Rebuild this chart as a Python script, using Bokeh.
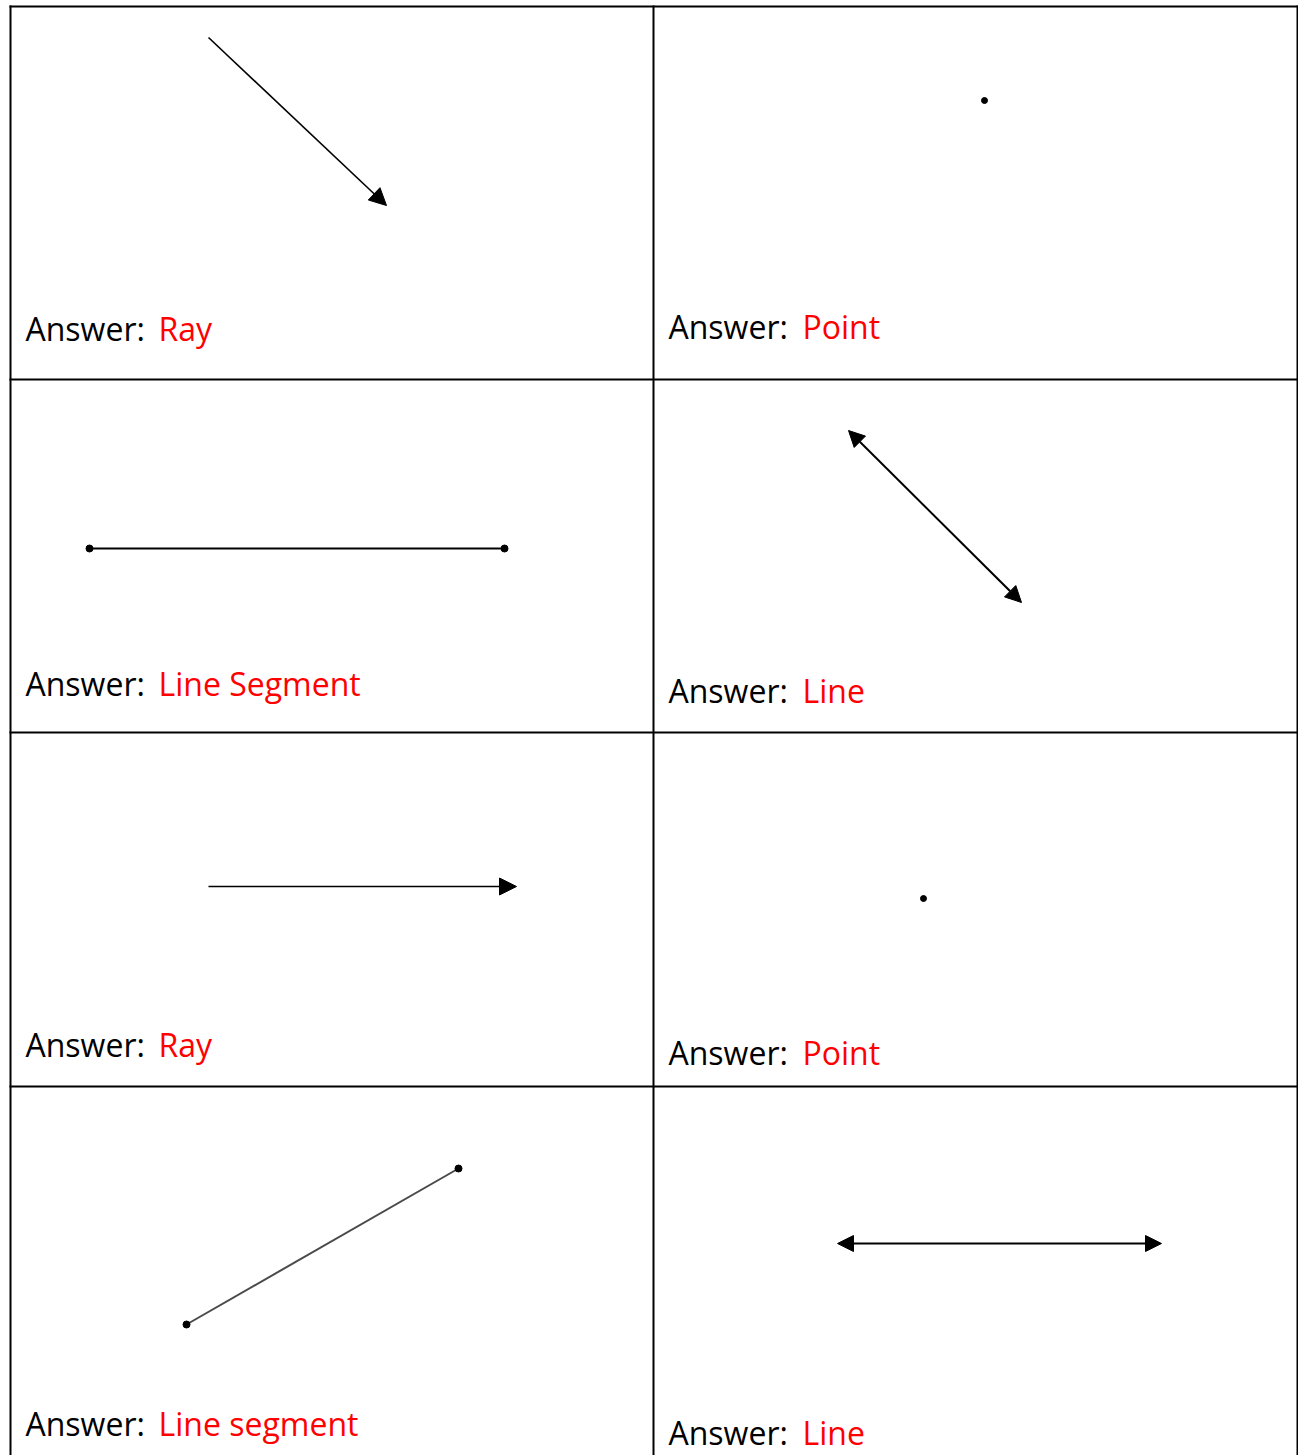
from bokeh.plotting import figure
from bokeh.models import Range1d, Arrow, NormalHead, ColumnDataSource
from bokeh.core.properties import value
from bokeh.embed import file_html
from bokeh.resources import INLINE

# ---- data (screen-like coordinates, y grows downward) ----
answers = ["Ray", "Point", "Line Segment", "Line", "Ray", "Point", "Line segment", "Line"]
prefix = "Answer:"
text_x = [25, 668, 25, 668, 25, 668, 25, 668]
red_x = [158, 802, 158, 802, 158, 802, 158, 802]
text_y = [328, 326, 683, 690, 1044, 1052, 1423, 1432]

grid_vx = [10, 653, 1297]
grid_hy = [6, 379, 732, 1086]
grid_top = 6
grid_bottom = 1455
grid_left = 10
grid_right = 1297

# rays (single arrowhead at end)
ray_x0 = [208, 208]
ray_y0 = [37, 886]
ray_x1 = [386, 516]
ray_y1 = [205, 886]

# lines (arrowheads both ends)
line_x0 = [848, 837]
line_y0 = [430, 1243]
line_x1 = [1021, 1161]
line_y1 = [602, 1243]

# segments with endpoints
seg_x0 = [89, 186]
seg_y0 = [548, 1324]
seg_x1 = [504, 458]
seg_y1 = [548, 1168]
seg_color = ["black", "#4a4a4a"]

# points
pt_x = [984, 923]
pt_y = [100, 898]

W, H = 1298, 1455
p = figure(width=W, height=H, output_backend="svg", toolbar_location=None,
           x_range=Range1d(0, W), y_range=Range1d(H, 0),
           x_axis_type=None, y_axis_type=None, min_border=0,
           outline_line_color=None, background_fill_color="white",
           border_fill_color="white")
p.xgrid.visible = False
p.ygrid.visible = False

# table grid
p.segment(x0=grid_vx, y0=[grid_top - 1] * len(grid_vx), x1=grid_vx,
          y1=[grid_bottom] * len(grid_vx), line_color="black", line_width=2)
p.segment(x0=[grid_left - 1] * len(grid_hy), y0=grid_hy, x1=[grid_right + 1] * len(grid_hy),
          y1=grid_hy, line_color="black", line_width=2)

# rays
ray_src = ColumnDataSource(dict(x0=ray_x0, y0=ray_y0, x1=ray_x1, y1=ray_y1))
p.add_layout(Arrow(source=ray_src, x_start="x0", y_start="y0", x_end="x1", y_end="y1",
                   line_color="black", line_width=1.6,
                   end=NormalHead(size=17, fill_color="black", line_color="black", line_width=1)))

# lines
line_src = ColumnDataSource(dict(x0=line_x0, y0=line_y0, x1=line_x1, y1=line_y1))
p.add_layout(Arrow(source=line_src, x_start="x0", y_start="y0", x_end="x1", y_end="y1",
                   line_color="black", line_width=2,
                   start=NormalHead(size=16, fill_color="black", line_color="black", line_width=1),
                   end=NormalHead(size=16, fill_color="black", line_color="black", line_width=1)))

# segments
p.segment(x0=seg_x0, y0=seg_y0, x1=seg_x1, y1=seg_y1, line_color=seg_color, line_width=2)
p.scatter(x=seg_x0 + seg_x1, y=seg_y0 + seg_y1, size=7, marker="circle",
          fill_color="black", line_color="black")

# points
p.scatter(x=pt_x, y=pt_y, size=6, marker="circle", fill_color="black", line_color="black")

# texts
p.text(x=text_x, y=text_y, text=[prefix] * len(answers), text_font=value("Open Sans"),
       text_font_size="32px", text_baseline="alphabetic", text_align="left",
       text_color="black")
p.text(x=red_x, y=text_y, text=answers, text_font=value("Open Sans"),
       text_font_size="32px", text_baseline="alphabetic", text_align="left",
       text_color="#ff0000")

open("out.html", "w").write(file_html(p, INLINE))
